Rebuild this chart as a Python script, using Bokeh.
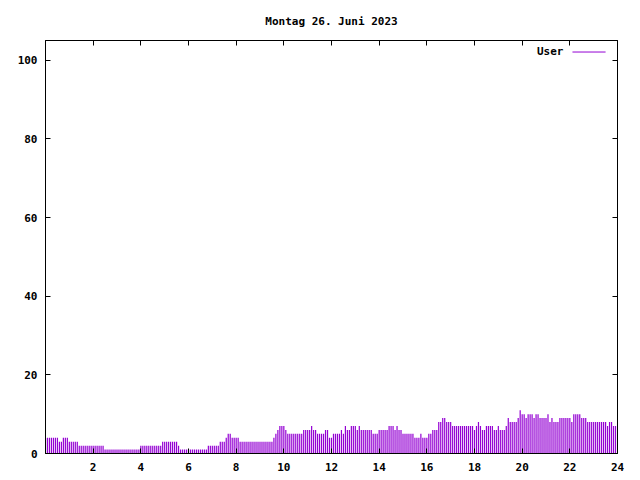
from bokeh.plotting import figure
from bokeh.models import FixedTicker, LinearAxis, Label, Arrow, Range1d
from bokeh.embed import file_html
from bokeh.resources import INLINE

# Data: number of users every 5 minutes (one row per hour)
users = [
    4, 4, 4, 4, 4, 4, 4, 3, 3, 4, 4, 4,
    3, 3, 3, 3, 3, 2, 2, 2, 2, 2, 2, 2,
    2, 2, 2, 2, 2, 2, 1, 1, 1, 1, 1, 1,
    1, 1, 1, 1, 1, 1, 1, 1, 1, 1, 1, 1,
    2, 2, 2, 2, 2, 2, 2, 2, 2, 2, 2, 3,
    3, 3, 3, 3, 3, 3, 3, 2, 1, 1, 1, 1,
    1, 1, 1, 1, 1, 1, 1, 1, 1, 1, 2, 2,
    2, 2, 2, 2, 3, 3, 3, 4, 5, 5, 4, 4,
    4, 4, 3, 3, 3, 3, 3, 3, 3, 3, 3, 3,
    3, 3, 3, 3, 3, 3, 3, 4, 5, 6, 7, 7,
    7, 6, 5, 5, 5, 5, 5, 5, 5, 5, 6, 6,
    6, 6, 7, 6, 6, 5, 5, 5, 5, 6, 6, 4,
    4, 5, 5, 5, 5, 6, 5, 7, 6, 6, 7, 7,
    7, 6, 7, 6, 6, 6, 6, 6, 6, 5, 5, 5,
    6, 6, 6, 6, 6, 7, 7, 7, 6, 7, 6, 6,
    5, 5, 5, 5, 5, 5, 4, 4, 4, 5, 4, 4,
    4, 5, 5, 6, 6, 6, 8, 8, 9, 9, 8, 8,
    8, 7, 7, 7, 7, 7, 7, 7, 7, 7, 7, 7,
    6, 7, 8, 7, 6, 6, 7, 7, 7, 7, 6, 6,
    7, 6, 6, 6, 7, 9, 8, 8, 8, 8, 9, 11,
    10, 10, 9, 10, 10, 10, 9, 10, 10, 9, 9, 9,
    9, 10, 8, 9, 8, 8, 8, 9, 9, 9, 9, 9,
    9, 8, 10, 10, 10, 10, 9, 9, 9, 8, 8, 8,
    8, 8, 8, 8, 8, 8, 8, 7, 8, 8, 7, 7,
]
hours = [i * 5 / 60 for i in range(len(users))]  # time of day in hours
x_ticks = [2, 4, 6, 8, 10, 12, 14, 16, 18, 20, 22, 24]
y_ticks = [0, 20, 40, 60, 80, 100]
title_text = "Montag 26. Juni 2023"
series_name = "User"

COLOR = "#9400D3"
FONT = "DejaVu Sans Mono"
FS = "11px"

p = figure(width=640, height=480, x_range=Range1d(0, 24), y_range=Range1d(0, 105),
           output_backend="svg", toolbar_location=None, title=title_text,
           min_border_left=45, min_border_right=23, min_border_top=40, min_border_bottom=27)
p.background_fill_color = "white"
p.border_fill_color = "white"
p.outline_line_color = "black"
p.outline_line_width = 1
p.grid.visible = False

p.title.align = "center"
p.title.text_font = FONT
p.title.text_font_size = FS
p.title.text_font_style = "bold"
p.title.text_color = "black"
p.title.standoff = 25

p.segment(x0=hours, y0=[0] * len(users), x1=hours, y1=users, line_color=COLOR, line_width=1.2)

def style(ax, ticks, labels=True):
    ax.ticker = FixedTicker(ticks=ticks)
    ax.major_tick_in = 5
    ax.major_tick_out = 0
    ax.minor_tick_in = 0
    ax.minor_tick_out = 0
    ax.axis_line_color = "black"
    ax.major_tick_line_color = "black"
    ax.major_label_text_font = FONT
    ax.major_label_text_font_size = FS
    ax.major_label_text_font_style = "bold"
    ax.major_label_text_color = "black"
    if not labels:
        ax.major_label_overrides = {t: "" for t in ticks}
        ax.major_label_standoff = 0

style(p.xaxis[0], x_ticks)
p.xaxis[0].major_label_standoff = 9
style(p.yaxis[0], y_ticks)
p.yaxis[0].major_label_standoff = 8

top_ax = LinearAxis()
style(top_ax, x_ticks, labels=False)
p.add_layout(top_ax, "above")
right_ax = LinearAxis()
style(right_ax, y_ticks, labels=False)
p.add_layout(right_ax, "right")

# legend (gnuplot style: label then line sample)
p.add_layout(Label(x=21.73, y=102.2, text=series_name, text_align="right", text_baseline="middle",
                   text_font=FONT, text_font_size=FS, text_font_style="bold", text_color="black"))
p.add_layout(Arrow(end=None, x_start=22.11, y_start=102.07, x_end=23.5, y_end=102.07,
                   line_color=COLOR, line_width=1))

open("out.html", "w").write(file_html(p, INLINE))
